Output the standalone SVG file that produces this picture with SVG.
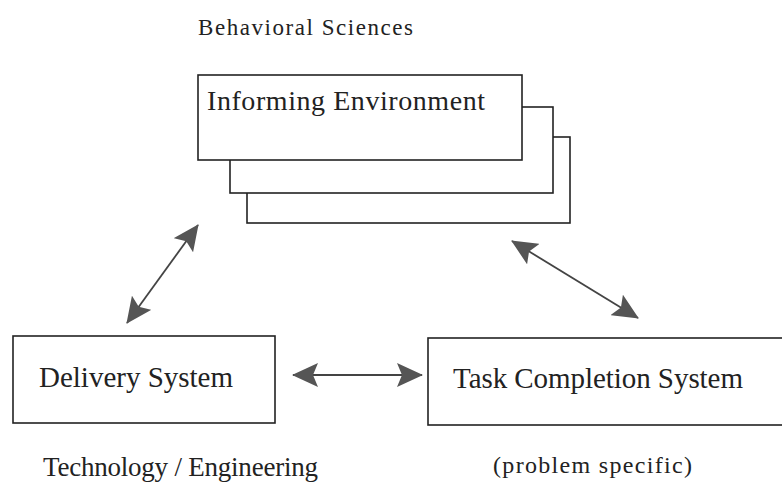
<svg xmlns="http://www.w3.org/2000/svg" width="782" height="484" viewBox="0 0 782 484">
<style>
.box{fill:#fff;stroke:#222;stroke-width:1.6}
.t{font-family:"Liberation Serif","Times New Roman",serif;fill:#222}
.c{stroke:#444;stroke-width:1.8;fill:none}
</style>
<defs>
<marker id="ah" viewBox="0 0 26 24" refX="25" refY="12" markerWidth="26" markerHeight="24" markerUnits="userSpaceOnUse" orient="auto-start-reverse">
<path d="M0,0 L26,12 L0,24 L5,12 z" fill="#555"/>
</marker>
</defs>
<rect width="782" height="484" fill="#fff"/>
<text class="t" x="198" y="35" font-size="23" textLength="215" lengthAdjust="spacing">Behavioral Sciences</text>
<g id="informing-environment">
<rect class="box" x="247" y="137" width="323" height="86"/>
<rect class="box" x="230" y="107" width="323" height="86"/>
<rect class="box" x="198" y="75" width="324" height="85"/>
<text class="t" x="207" y="110" font-size="28" textLength="278" lengthAdjust="spacing">Informing Environment</text>
</g>
<g id="delivery-system">
<rect class="box" x="13" y="336" width="262" height="87"/>
<text class="t" x="39" y="387" font-size="29" textLength="194" lengthAdjust="spacing">Delivery System</text>
</g>
<g id="task-completion-system">
<rect class="box" x="428" y="338" width="360" height="87"/>
<text class="t" x="453" y="388" font-size="29" textLength="290" lengthAdjust="spacing">Task Completion System</text>
</g>
<text class="t" x="43" y="476" font-size="27" textLength="275" lengthAdjust="spacing">Technology / Engineering</text>
<text class="t" x="493" y="473" font-size="24" textLength="199" lengthAdjust="spacing">(problem specific)</text>
<g id="connectors">
<line class="c" x1="127" y1="323" x2="198" y2="225" marker-start="url(#ah)" marker-end="url(#ah)"/>
<line class="c" x1="512" y1="241" x2="638" y2="318" marker-start="url(#ah)" marker-end="url(#ah)"/>
<line class="c" x1="293" y1="375" x2="422" y2="375" marker-start="url(#ah)" marker-end="url(#ah)"/>
</g>
</svg>
